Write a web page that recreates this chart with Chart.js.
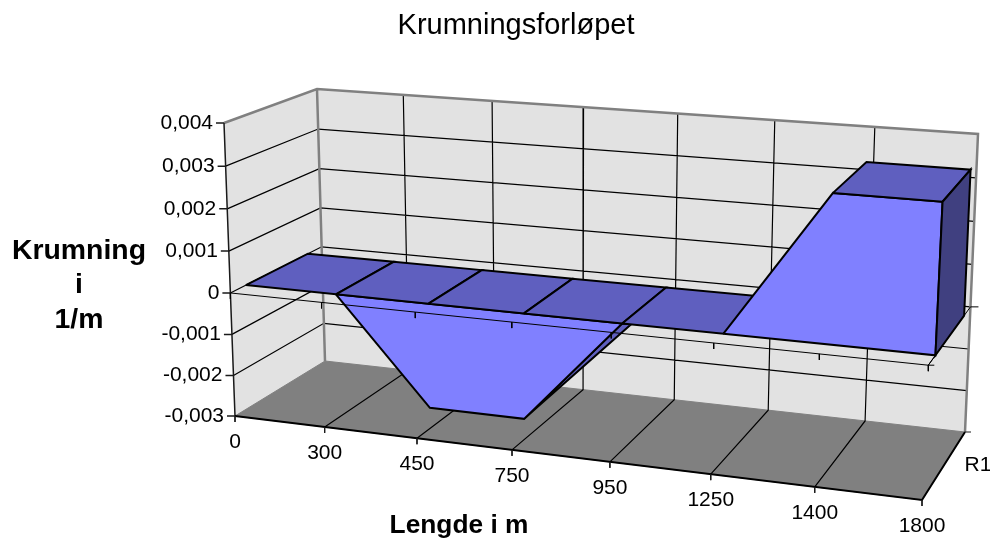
<!DOCTYPE html>
<html>
<head>
<meta charset="utf-8">
<title>Krumningsforløpet</title>
<script src="https://cdn.jsdelivr.net/npm/chart.js@4"></script>
<style>
html, body { margin: 0; padding: 0; background: #fff; }
canvas { display: block; }
</style>
</head>
<body>
<canvas id="chart" width="990" height="541"></canvas>
<script>
// data
const categories = ["0", "300", "450", "750", "950", "1250", "1400", "1800"];
const values = [0, 0, -0.0025, -0.0025, 0, 0, 0.00335, 0.00335];
const valueTicks = [-0.003, -0.002, -0.001, 0, 0.001, 0.002, 0.003, 0.004];
const valueLabels = ["-0,003", "-0,002", "-0,001", "0", "0,001", "0,002", "0,003", "0,004"];
const seriesLabel = "R1";
const titleText = "Krumningsforløpet";
const yTitleLines = ["Krumning", "i", "1/m"];
const xTitleText = "Lengde i m";

// the box corners on screen, the picture is a 3D view so the scales get projected
const box = {
    frontBottomLeft: [235, 416], frontBottomRight: [922, 500],
    backBottomLeft: [325, 361], backBottomRight: [965, 432],
    frontTopLeft: [224, 123], frontTopRight: [937, 179],
    backTopLeft: [317, 89], backTopRight: [978, 134],
};
const perspU = 1.11, perspV = 1.036;
const depthFront = 0.17, depthBack = 0.85;
const vMin = valueTicks[0], vMax = valueTicks[valueTicks.length - 1];
const lastCat = categories.length - 1;

function warp(t, k) { return t / (t + (1 - t) * k); }
function mix(a, b, t) { return [a[0] + (b[0] - a[0]) * t, a[1] + (b[1] - a[1]) * t]; }

// cat = category position, val = value, depth 0 (front) .. 1 (back)
function project(cat, val, depth) {
    const u = warp(cat / lastCat, perspU);
    const v = warp((val - vMin) / (vMax - vMin), perspV);
    const bottom = mix(mix(box.frontBottomLeft, box.frontBottomRight, u), mix(box.backBottomLeft, box.backBottomRight, u), depth);
    const top = mix(mix(box.frontTopLeft, box.frontTopRight, u), mix(box.backTopLeft, box.backTopRight, u), depth);
    const p = mix(bottom, top, v);
    return { x: p[0], y: p[1] };
}

function shift(p, dx, dy) { return { x: p.x + dx, y: p.y + dy }; }

// several separate lines in one dataset, split by empty points
function lines(list) {
    const out = [];
    list.forEach(l => { out.push(...l); out.push({ x: NaN, y: NaN }); });
    return out;
}

const layers = [];
function polygon(points, fill, border, width) {
    layers.push({
        data: points.concat([points[0]]), fill: "shape", backgroundColor: fill,
        borderColor: border || fill, borderWidth: width === undefined ? 1 : width,
    });
}
function stroke(list, color, width) {
    layers.push({ data: lines(list), fill: false, borderColor: color, borderWidth: width });
}

// walls and floor
polygon([project(0, vMin, 0), project(0, vMax, 0), project(0, vMax, 1), project(0, vMin, 1)], "#e2e2e2");
polygon([project(0, vMin, 1), project(0, vMax, 1), project(lastCat, vMax, 1), project(lastCat, vMin, 1)], "#e2e2e2");
polygon([project(0, vMin, 0), project(lastCat, vMin, 0), project(lastCat, vMin, 1), project(0, vMin, 1)], "#808080");

// grid lines
const grid = [];
valueTicks.slice(1, -1).forEach(t => {
    grid.push([project(0, t, 0), project(0, t, 1), project(lastCat, t, 1)]);
});
categories.forEach((c, i) => {
    if (i > 0 && i < lastCat) {
        grid.push([project(i, vMax, 1), project(i, vMin, 1), project(i, vMin, 0)]);
    }
});
stroke(grid, "#000", 1.2);

// wall edges
stroke([
    [project(0, vMax, 0), project(0, vMax, 1), project(lastCat, vMax, 1), project(lastCat, vMin, 1)],
    [project(0, vMax, 1), project(0, vMin, 1)],
], "#808080", 2.5);

// axes
stroke([[project(0, vMax, 0), project(0, vMin, 0)]].concat(
    valueTicks.map(t => [project(0, t, 0), shift(project(0, t, 0), -8, 0)])
), "#1a1a1a", 1.5);
stroke([[project(0, vMin, 0), project(lastCat, vMin, 0), project(lastCat, vMin, 1)]], "#000", 2);
stroke(categories.map((c, i) => [project(i, vMin, 0), shift(project(i, vMin, 0), 0, 6)]).concat([
    [project(lastCat, vMin, 1), shift(project(lastCat, vMin, 1), 6, 0)],
]), "#1a1a1a", 1);

// series axis at zero, behind the end of the area
stroke([
    [project(lastCat, 0, 0), project(lastCat, 0, 1), shift(project(lastCat, 0, 1), 8, 0)],
], "#000", 1);

// dark face under the rising part
const riseFrom = 3, riseTo = 4;
polygon([
    project(riseFrom, values[riseFrom], depthFront),
    project(riseTo, values[riseTo], depthFront),
    project(riseTo + 0.09, values[riseTo], depthFront),
], "#5f5fbf", "#000", 2);

// front faces, one for each side of zero
function frontFace(from, to) {
    const pts = [];
    for (let i = from; i <= to; i++) pts.push(project(i, values[i], depthFront));
    pts.push(project(to, 0, depthFront));
    pts.push(project(from, 0, depthFront));
    polygon(pts, "#8080ff", "#000", 2);
}
frontFace(1, 4);

// flat top at zero
for (let i = 0; i < lastCat; i++) {
    if (values[i] <= 0 && values[i + 1] <= 0) {
        polygon([project(i, 0, depthFront), project(i + 1, 0, depthFront), project(i + 1, 0, depthBack), project(i, 0, depthBack)], "#5f5fbf", "#000", 2);
    }
}
frontFace(5, 7);

// top of the raised part and its end cap
for (let i = 0; i < lastCat; i++) {
    if (values[i] > 0 && values[i + 1] > 0) {
        polygon([project(i, values[i], depthFront), project(i + 1, values[i + 1], depthFront), project(i + 1, values[i + 1], depthBack), project(i, values[i], depthBack)], "#5f5fbf", "#000", 2);
    }
}
polygon([project(lastCat, values[lastCat], depthFront), project(lastCat, values[lastCat], depthBack), project(lastCat, 0, depthBack), project(lastCat, 0, depthFront)], "#404080", "#000", 2);

// axis at zero with its ticks is on top of the faces
stroke([[project(0, 0, 0), project(lastCat, 0, 0)]].concat(
    categories.map((c, i) => [project(i, 0, 0), shift(project(i, 0, 0), 0, 6)])
).concat([
    [project(lastCat, 0, 0), shift(project(lastCat, 0, 0), 6, 0)],
    [project(lastCat, 0, 0), project(lastCat, 0, depthFront)],
]), "#000", 1);

// text around the box
const boxLabels = {
    id: "boxLabels",
    afterDraw(chart) {
        const ctx = chart.ctx;
        ctx.save();
        ctx.fillStyle = "#000";
        ctx.textBaseline = "middle";
        ctx.font = "21px 'Liberation Sans'";
        ctx.textAlign = "right";
        valueTicks.forEach((t, i) => {
            const p = project(0, t, 0);
            ctx.fillText(valueLabels[i], p.x - 11, p.y);
        });
        ctx.textAlign = "center";
        categories.forEach((c, i) => {
            const p = project(i, vMin, 0);
            ctx.fillText(c, p.x, p.y + 26);
        });
        ctx.textAlign = "left";
        const r = project(lastCat, vMin, 0.5);
        ctx.fillText(seriesLabel, r.x + 21, r.y - 1);
        ctx.font = "bold 28.4px 'Liberation Sans'";
        ctx.textAlign = "center";
        yTitleLines.forEach((l, i) => ctx.fillText(l, 79, 251 + i * 34.5));
        ctx.font = "bold 26.3px 'Liberation Sans'";
        ctx.fillText(xTitleText, 459, 526);
        ctx.restore();
    },
};

// first dataset is painted last in Chart.js, so order follows the list above
const datasets = layers.map((l, i) => Object.assign({
    pointRadius: 0, tension: 0, clip: false, spanGaps: false,
    borderJoinStyle: "miter", order: layers.length - i,
}, l));

new Chart(document.getElementById("chart"), {
    type: "line",
    data: { datasets: datasets },
    options: {
        responsive: false,
        animation: false,
        devicePixelRatio: 1,
        layout: { padding: { left: 42, top: 0, right: 0, bottom: 0 } },
        plugins: {
            legend: { display: false },
            tooltip: { enabled: false },
            title: {
                display: true, text: titleText, color: "#000", fullSize: false,
                font: { family: "'Liberation Sans'", size: 29, weight: "normal", lineHeight: 1.2 },
                padding: { top: 8.2, bottom: 0 },
            },
        },
        scales: {
            x: { type: "linear", display: false, min: 42, max: 990 },
            y: { type: "linear", display: false, min: 43, max: 541, reverse: true },
        },
    },
    plugins: [boxLabels],
});
</script>
</body>
</html>
